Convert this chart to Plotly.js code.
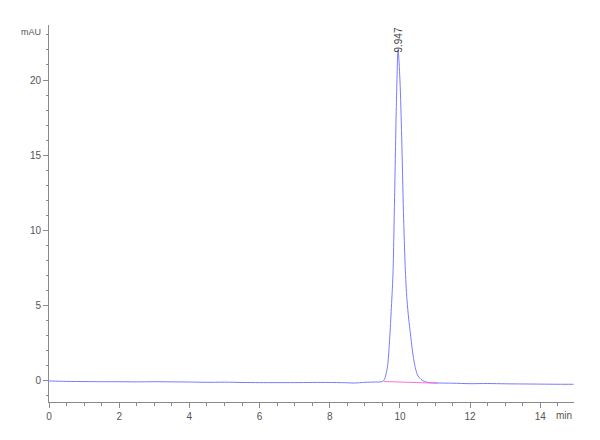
<!DOCTYPE html>
<html>
<head>
<meta charset="utf-8">
<script src="https://cdn.plot.ly/plotly-3.0.1.min.js"></script>
<style>html,body{margin:0;padding:0;background:#fff}#chart{width:600px;height:440px}</style>
</head>
<body>
<div id="chart"></div>
<script>
// Chromatogram signal (time in min, absorbance in mAU)
const times = [0, 0.5, 1.0, 1.5, 2.0, 2.5, 3.0, 3.5, 4.0, 4.5, 5.0, 5.5, 6.0, 6.5, 7.0, 7.5, 8.0, 8.5, 8.7, 9.0, 9.3, 9.5,
  9.55, 9.60, 9.65, 9.70, 9.75, 9.80, 9.85, 9.90, 9.947, 10.00, 10.05, 10.10, 10.15, 10.20, 10.25, 10.30, 10.35, 10.40, 10.45, 10.50, 10.60, 10.70, 10.80,
  11.0, 11.5, 12.0, 12.5, 13.0, 13.5, 14.0, 14.5, 14.95];
const signal = [-0.02, -0.05, -0.06, -0.07, -0.07, -0.08, -0.07, -0.08, -0.09, -0.11, -0.10, -0.12, -0.13, -0.13, -0.13, -0.12, -0.12, -0.14, -0.16, -0.11, -0.09, -0.06,
  0.05, 0.4, 1.0, 2.5, 4.6, 7.0, 12.5, 18.5, 22.0, 20.0, 16.2, 11.2, 7.6, 5.4, 4.1, 3.1, 2.1, 1.3, 0.75, 0.38, 0.08, -0.05, -0.12,
  -0.15, -0.17, -0.20, -0.19, -0.21, -0.22, -0.23, -0.24, -0.24];
// Integration baseline under the peak
const baseTimes = [9.54, 11.08];
const baseValues = [-0.06, -0.17];
// Peak label
const peakTime = 9.947;
const peakHeight = 22.0;
const peakLabel = "9.947";
const xTicks = [0, 2, 4, 6, 8, 10, 12, 14];
const yTicks = [0, 5, 10, 15, 20];

const axisColor = '#8a8a8a';
const textColor = '#555';

const data = [
  {x: times, y: signal, mode: 'lines', type: 'scatter',
   line: {color: '#7a7aff', width: 1, shape: 'spline', smoothing: 0.8}, hoverinfo: 'skip'},
  {x: baseTimes, y: baseValues, mode: 'lines', type: 'scatter',
   line: {color: '#ff70d8', width: 1}, hoverinfo: 'skip'}
];

const layout = {
  width: 600, height: 440,
  margin: {l: 49, r: 26, t: 25, b: 38},
  paper_bgcolor: '#fff', plot_bgcolor: '#fff',
  showlegend: false,
  font: {family: 'Liberation Sans, Arial, sans-serif', size: 10, color: textColor},
  xaxis: {
    range: [0, 14.96], tickvals: xTicks, ticktext: xTicks.map(String),
    showgrid: false, zeroline: false, showline: true, linecolor: axisColor, linewidth: 1,
    ticks: 'outside', ticklen: 5, tickcolor: axisColor, tickwidth: 1,
    minor: {dtick: 0.5, ticks: 'outside', ticklen: 3, tickcolor: axisColor, showgrid: false},
    tickfont: {size: 10, color: textColor}
  },
  yaxis: {
    range: [-1.42, 23.66], tickvals: yTicks, ticktext: yTicks.map(String),
    showgrid: false, zeroline: false, showline: true, linecolor: axisColor, linewidth: 1,
    ticks: 'outside', ticklen: 5, tickcolor: axisColor, tickwidth: 1,
    minor: {dtick: 1, ticks: 'outside', ticklen: 2, tickcolor: axisColor, showgrid: false},
    tickfont: {size: 10, color: textColor}
  },
  annotations: [
    {x: peakTime, y: peakHeight, xref: 'x', yref: 'y', text: peakLabel, showarrow: false,
     textangle: -90, xanchor: 'center', yanchor: 'bottom', yshift: -5,
     font: {size: 10, color: '#444'}},
    {x: 0, y: 1, xref: 'paper', yref: 'paper', text: 'mAU', showarrow: false,
     xanchor: 'right', yanchor: 'middle', xshift: -6, yshift: -7,
     font: {size: 9, color: textColor}},
    {x: 1, y: 0, xref: 'paper', yref: 'paper', text: 'min', showarrow: false,
     xanchor: 'right', yanchor: 'top', yshift: -6,
     font: {size: 10, color: textColor}}
  ]
};

Plotly.newPlot('chart', data, layout, {displayModeBar: false, staticPlot: true});
</script>
</body>
</html>
